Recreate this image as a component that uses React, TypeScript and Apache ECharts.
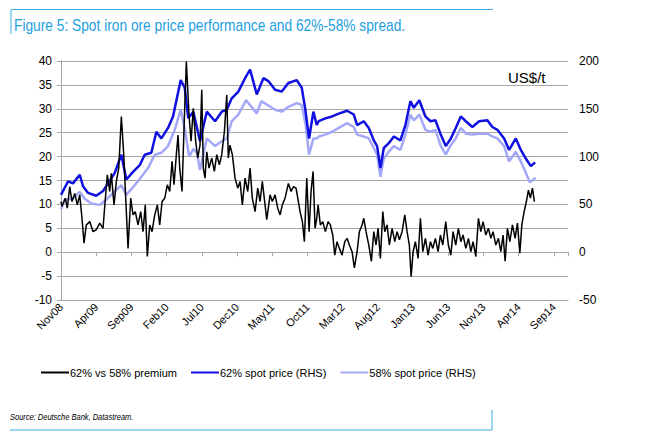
import React, { useEffect, useRef } from "react";
import * as echarts from "echarts";

const xTickLabels = [
  "Nov08", "Apr09", "Sep09", "Feb10", "Jul10", "Dec10", "May11", "Oct11",
  "Mar12", "Aug12", "Jan13", "Jun13", "Nov13", "Apr14", "Sep14",
];

// [months since Nov08, US$/t premium]
const premium: number[][] = [
  [0.0,10.6],[0.14,9.6],[0.61,11.3],[0.89,9.2],[1.24,13.7],[1.56,10.6],[1.95,12.3],[2.32,9.9],[2.66,12.0],[2.98,7.1],
  [3.27,1.9],[3.59,5.7],[4.08,6.4],[4.55,4.3],[5.01,4.7],[5.5,6.1],[5.97,5.0],[6.21,9.6],[6.58,16.2],[6.92,12.7],
  [7.14,16.5],[7.53,9.9],[7.86,14.8],[8.2,17.6],[8.57,28.4],[8.91,20.4],[9.19,11.3],[9.52,0.8],[9.9,11.3],[10.23,7.8],
  [10.55,8.5],[10.94,5.7],[11.32,8.5],[11.65,4.3],[11.97,9.9],[12.26,-0.9],[12.6,5.7],[12.93,4.3],[13.31,7.8],[13.68,9.9],
  [14.02,5.7],[14.35,10.6],[14.73,11.3],[15.1,14.1],[15.44,12.7],[15.77,19.0],[16.05,14.1],[16.38,20.4],[16.62,24.5],[16.86,17.6],
  [17.19,12.7],[17.47,25.9],[17.8,39.9],[18.18,28.7],[18.47,23.2],[18.79,30.1],[19.13,23.2],[19.42,19.7],[19.74,22.4],[19.99,34.0],
  [20.21,17.6],[20.45,15.5],[20.7,21.0],[21.02,17.6],[21.41,19.7],[21.78,16.9],[22.12,20.4],[22.49,18.3],[22.83,20.4],[23.2,25.2],
  [23.54,32.9],[23.76,19.7],[24.0,22.4],[24.33,20.4],[24.72,15.5],[25.1,13.4],[25.43,14.8],[25.75,9.9],[26.14,15.5],[26.52,12.7],
  [26.85,17.6],[27.17,11.3],[27.56,8.5],[27.94,13.4],[28.27,10.6],[28.59,14.8],[28.98,9.9],[29.22,6.8],[29.69,12.0],[30.01,10.6],
  [30.4,12.0],[30.78,9.2],[31.11,7.8],[31.43,9.9],[31.82,11.3],[32.29,14.4],[32.67,12.7],[33.0,13.7],[33.38,13.4],[33.71,10.6],
  [33.95,8.5],[34.28,6.4],[34.56,2.2],[34.9,15.5],[35.23,4.3],[35.51,12.7],[35.8,16.9],[36.08,5.0],[36.32,7.1],[36.51,9.9],
  [36.83,5.7],[37.17,6.4],[37.54,4.3],[37.93,6.4],[38.25,5.7],[38.59,3.6],[38.88,-0.6],[39.2,2.2],[39.53,0.8],[39.91,-0.6],
  [40.3,2.2],[40.63,2.9],[40.95,1.5],[41.34,0.1],[41.66,-3.3],[42.05,0.1],[42.37,4.3],[42.76,5.7],[43.0,7.1],[43.32,4.3],
  [43.71,1.5],[44.08,-1.9],[44.42,4.3],[44.74,1.5],[45.03,5.0],[45.36,-1.3],[45.7,8.5],[45.98,4.3],[46.31,5.7],[46.63,1.5],
  [47.02,5.0],[47.4,2.2],[47.73,4.3],[48.05,2.6],[48.44,4.3],[48.82,7.8],[49.15,4.3],[49.47,1.5],[49.72,-5.1],[50.0,0.1],
  [50.33,2.2],[50.71,-1.3],[51.04,7.1],[51.38,0.1],[51.75,2.9],[52.13,-0.6],[52.46,2.2],[52.8,0.8],[53.17,2.9],[53.55,0.1],
  [53.88,3.6],[54.22,1.5],[54.64,6.4],[55.01,1.5],[55.36,-0.6],[55.68,4.3],[56.06,1.5],[56.43,5.0],[56.78,2.2],[57.1,3.6],
  [57.49,0.8],[57.86,2.9],[58.2,0.1],[58.52,2.2],[58.91,-0.9],[59.28,7.1],[59.62,4.3],[59.94,6.4],[60.33,3.6],[60.7,5.0],
  [61.04,2.9],[61.36,4.3],[61.75,1.5],[62.12,2.9],[62.46,0.1],[62.78,3.6],[63.07,-1.9],[63.4,5.0],[63.74,2.2],[64.11,5.7],
  [64.49,2.9],[64.82,6.1],[65.16,-0.2],[65.44,5.7],[65.77,8.5],[66.09,10.6],[66.38,13.0],[66.66,11.3],[66.95,13.4],[67.23,10.6],
];

// [months since Nov08, US$/t]
const spot62: number[][] = [
  [0.0,60],[0.99,74],[1.7,72],[2.66,81],[3.13,69],[3.84,62],[5.01,59],[5.97,64],[6.68,72],[7.63,83],
  [8.57,102],[9.28,76],[10.23,84],[11.18,91],[11.89,102],[12.83,104],[13.54,126],[14.25,119],[15.2,130],[15.91,142],
  [17.0,180],[17.57,172],[18.08,140],[18.79,147],[19.74,116],[20.7,147],[21.88,137],[22.83,147],[23.54,149],[24.25,161],
  [25.18,168],[26.14,182],[26.85,191],[27.8,165],[28.74,182],[29.45,179],[30.4,170],[31.35,168],[32.29,177],[33.48,180],
  [34.19,172],[34.66,151],[35.23,119],[35.84,147],[36.32,133],[36.6,137],[37.54,140],[38.49,142],[39.45,145],[40.63,148],
  [41.58,144],[42.05,133],[43.0,137],[43.71,130],[44.42,117],[44.89,111],[45.36,88],[45.84,109],[46.55,114],[47.26,121],
  [48.2,117],[48.91,133],[49.62,158],[50.1,151],[50.89,159],[51.75,142],[52.46,137],[53.17,138],[53.88,124],[54.64,111],
  [55.36,119],[56.06,130],[56.78,142],[57.49,137],[58.42,131],[59.38,137],[60.55,138],[61.26,131],[61.97,128],[62.93,119],
  [63.64,107],[64.59,119],[65.3,107],[66.01,98],[66.72,90],[67.33,94],
];

const spot58: number[][] = [
  [0.0,45],[0.53,55],[1.7,56],[2.66,63],[3.37,56],[4.3,51],[5.5,49.5],[6.43,55],[7.39,62],[8.57,70],
  [9.28,60],[10.47,70],[11.41,79],[12.36,88],[13.31,102],[14.25,104],[15.2,111],[16.15,128],[17.0,149],[17.6,128],
  [18.2,100],[18.8,108],[19.3,104],[19.74,86],[20.7,119],[21.88,111],[22.83,116],[23.54,119],[24.25,137],[25.18,144],
  [26.3,159],[27.8,145],[28.45,158],[30.4,149],[31.35,147],[32.29,152],[33.48,156],[34.19,154],[34.75,133],[35.23,102],
  [35.84,119],[36.32,119],[36.6,121],[37.54,123],[38.49,126],[39.45,130],[40.63,135],[41.58,131],[42.05,123],[43.0,121],
  [43.71,119],[44.42,109],[44.89,102],[45.36,79],[45.84,98],[46.55,105],[47.26,111],[48.2,107],[48.91,123],[49.62,144],
  [50.1,138],[50.89,144],[51.75,128],[52.46,126],[53.17,128],[53.88,112],[54.64,102],[55.36,112],[56.06,119],[56.78,130],
  [57.49,124],[58.42,123],[59.38,124],[60.55,124],[61.26,121],[61.97,119],[62.93,111],[63.64,95],[64.59,105],[65.3,95],
  [66.01,83],[66.59,73],[67.4,78],
];

const SANS = "'Liberation Sans', Arial, sans-serif";

export default function App() {
  const ref = useRef<HTMLDivElement>(null);
  useEffect(() => {
    const chart = echarts.init(ref.current!, null, { renderer: "svg" });
    const gridColor = "#a6a6a6";
    const frame = "#3bb0e6";
    chart.setOption({
      animation: false,
      backgroundColor: "#ffffff",
      grid: { left: 61, right: 80, top: 61, bottom: 143 },
      legend: {
        left: 36,
        top: 362,
        icon: "rect",
        itemWidth: 28,
        itemHeight: 2,
        itemGap: 14,
        data: ["62% vs 58% premium", "62% spot price (RHS)", "58% spot price (RHS)"],
        textStyle: { fontSize: 11, color: "#000", fontFamily: SANS, padding: [0, 0, 0, -4] },
      },
      xAxis: [
        {
          type: "value",
          min: 0,
          max: 72,
          interval: 5,
          position: "bottom",
          axisLine: { show: true, onZero: false, lineStyle: { color: gridColor } },
          axisTick: { show: false },
          splitLine: { show: false },
          axisLabel: {
            rotate: 45,
            margin: 5,
            fontSize: 11,
            color: "#000",
            fontFamily: SANS,
            showMaxLabel: false,
            formatter: (v: number) =>
              v % 5 === 0 && v / 5 < xTickLabels.length ? xTickLabels[v / 5] : "",
          },
        },
        {
          type: "value",
          min: 0,
          max: 72,
          interval: 5,
          position: "bottom",
          axisLine: { show: true, onZero: true, onZeroAxisIndex: 0, lineStyle: { color: gridColor } },
          axisTick: { show: true, length: 4, lineStyle: { color: gridColor } },
          splitLine: { show: false },
          axisLabel: { show: false },
        },
      ],
      yAxis: [
        {
          type: "value",
          min: -10,
          max: 40,
          interval: 5,
          position: "left",
          axisLine: { show: true, lineStyle: { color: gridColor } },
          axisTick: { show: true, length: 4, lineStyle: { color: gridColor } },
          splitLine: { show: true, lineStyle: { color: gridColor, width: 1 } },
          axisLabel: { fontSize: 12, color: "#000", margin: 9, fontFamily: SANS },
        },
        {
          type: "value",
          min: -50,
          max: 200,
          interval: 50,
          position: "right",
          axisLine: { show: true, lineStyle: { color: gridColor } },
          axisTick: { show: true, length: 4, lineStyle: { color: gridColor } },
          splitLine: { show: false },
          axisLabel: { fontSize: 12, color: "#000", margin: 11, fontFamily: SANS },
        },
      ],
      series: [
        {
          name: "58% spot price (RHS)",
          type: "line",
          xAxisIndex: 0,
          yAxisIndex: 1,
          data: spot58,
          symbol: "none",
          z: 2,
          lineStyle: { color: "#a3a8f7", width: 2.5 },
          itemStyle: { color: "#a3a8f7" },
        },
        {
          name: "62% spot price (RHS)",
          type: "line",
          xAxisIndex: 0,
          yAxisIndex: 1,
          data: spot62,
          symbol: "none",
          z: 3,
          lineStyle: { color: "#1010e0", width: 2.5 },
          itemStyle: { color: "#1010e0" },
        },
        {
          name: "62% vs 58% premium",
          type: "line",
          xAxisIndex: 0,
          yAxisIndex: 0,
          data: premium,
          symbol: "none",
          z: 4,
          lineStyle: { color: "#000000", width: 1.5 },
          itemStyle: { color: "#000000" },
        },
      ],
      graphic: [
        { type: "line", shape: { x1: 11, y1: 9.5, x2: 493, y2: 9.5 }, style: { stroke: frame, lineWidth: 1 } },
        { type: "line", shape: { x1: 11, y1: 9.5, x2: 11, y2: 34 }, style: { stroke: frame, lineWidth: 1 } },
        { type: "line", shape: { x1: 10, y1: 430, x2: 492, y2: 430 }, style: { stroke: frame, lineWidth: 1 } },
        { type: "line", shape: { x1: 492, y1: 410, x2: 492, y2: 430 }, style: { stroke: frame, lineWidth: 1 } },
        {
          type: "text",
          x: 14,
          y: 25,
          scaleX: 0.86,
          style: {
            text: "Figure 5: Spot iron ore price performance and 62%-58% spread.",
            fill: "#1e9fe0",
            fontSize: 16,
            fontFamily: SANS,
            verticalAlign: "middle",
          },
        },
        {
          type: "text",
          x: 508,
          y: 77,
          style: { text: "US$/t", fill: "#000", fontSize: 15, fontFamily: SANS, verticalAlign: "middle" },
        },
        {
          type: "text",
          x: 10,
          y: 417,
          scaleX: 0.88,
          style: {
            text: "Source: Deutsche Bank, Datastream.",
            fill: "#000",
            fontSize: 8.5,
            fontStyle: "italic",
            fontFamily: SANS,
            verticalAlign: "middle",
          },
        },
      ],
    });
    return () => chart.dispose();
  }, []);
  return <div ref={ref} style={{ position: "fixed", left: 0, top: 0, width: 648, height: 443 }} />;
}
